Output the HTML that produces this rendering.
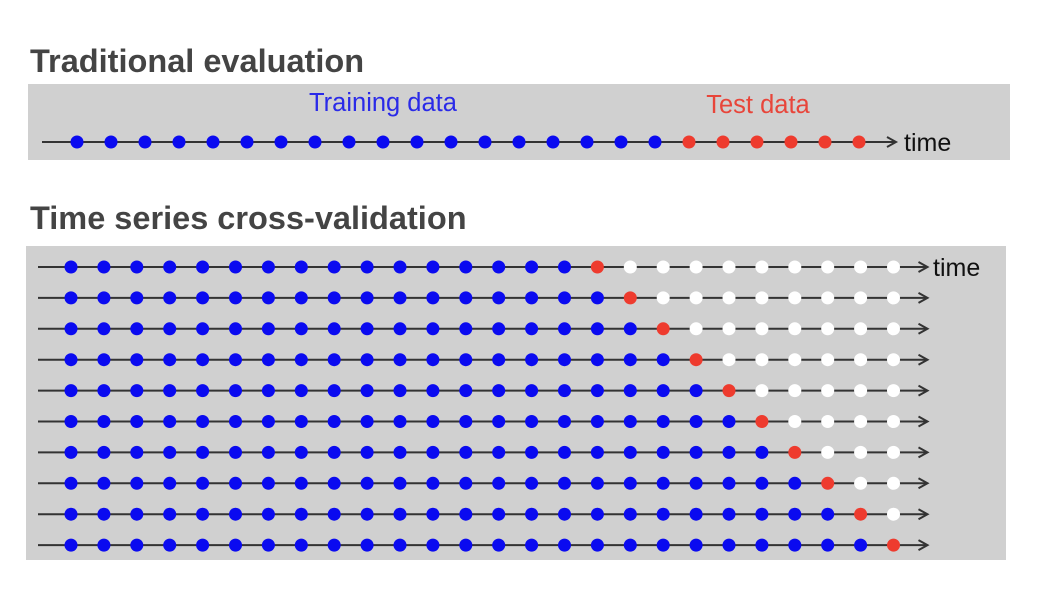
<!DOCTYPE html>
<html><head><meta charset="utf-8"><style>
body{margin:0;background:#fff;width:1048px;height:602px;overflow:hidden}
svg{display:block}
</style></head><body>
<svg id="c" width="1048" height="602">
<text x="30" y="72" font-family="Liberation Sans, sans-serif" font-weight="bold" font-size="32.5" fill="#444">Traditional evaluation</text>
<rect x="28" y="84" width="982" height="76" fill="#d0d0d0"/>
<text x="383" y="111" text-anchor="middle" font-family="Liberation Sans, sans-serif" font-size="25.5" fill="#2a2ae8">Training data</text>
<text x="758" y="113" text-anchor="middle" font-family="Liberation Sans, sans-serif" font-size="25.5" fill="#e8453a">Test data</text>
<text x="30" y="229" font-family="Liberation Sans, sans-serif" font-weight="bold" font-size="32.5" fill="#444">Time series cross-validation</text>
<rect x="26" y="246" width="980" height="314" fill="#d0d0d0"/>
<g id="g"></g>
</svg>
<script>
const topTrain = 18;
const topTest = 6;
const nPoints = 26;
const trainSizes = [16,17,18,19,20,21,22,23,24,25];
const NS='http://www.w3.org/2000/svg';
const g=document.getElementById('g');
function el(t,a){const e=document.createElementNS(NS,t);for(const k in a)e.setAttribute(k,a[k]);g.appendChild(e);return e;}
function arrow(x1,x2,y,name){
  const l=el('line',{x1:x1,y1:y,x2:x2,y2:y,stroke:'#333','stroke-width':2});
  
  
  const p=el('path',{d:`M${x2-8},${y-5}L${x2+1},${y}L${x2-8},${y+5}`,fill:'none',stroke:'#333','stroke-width':2});
  
  
}
const tx=i=>77+i*34, ty=142;
const topN=topTrain+topTest;
arrow(42,tx(topN-1)+36,ty,'traditional-timeline');
for(let i=0;i<topN;i++){
  const c=el('circle',{cx:tx(i),cy:ty,r:6.5,fill:i<topTrain?'#0a0af0':'#ee3b2e'});
  
  
}
let t=el('text',{x:904,y:151,'font-family':'Liberation Sans, sans-serif','font-size':25,fill:'#111'});
t.textContent='time';


const cx=i=>71+i*32.9, cy=r=>267+r*30.9;
trainSizes.forEach((n,r)=>{
  const y=cy(r);
  arrow(38,cx(nPoints-1)+33,y,'fold-timeline');
  for(let i=0;i<nPoints;i++){
    const col=i<n?'#0a0af0':(i===n?'#ee3b2e':'#ffffff');
    const c=el('circle',{cx:cx(i),cy:y,r:6.5,fill:col});
    
    
  }
});
t=el('text',{x:933,y:cy(0)+9,'font-family':'Liberation Sans, sans-serif','font-size':25,fill:'#111'});
t.textContent='time';


</script>
</body></html>
